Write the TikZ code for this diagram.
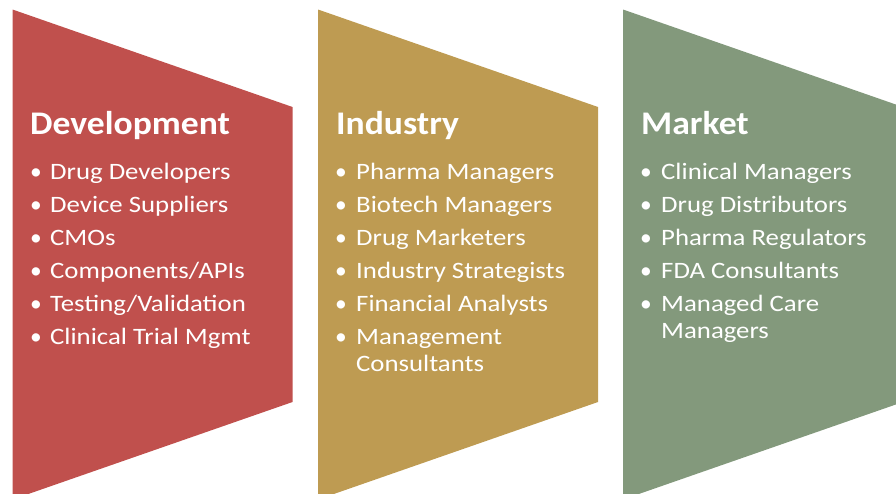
\documentclass[tikz,border=0pt]{standalone}
\usepackage{fontspec}
\setmainfont{Carlito}
\newfontfamily\itemfont[FakeStretch=1.14]{Carlito}
\newfontfamily\titlefont[FakeStretch=1.08]{Carlito}
\definecolor{cred}{RGB}{192,80,77}
\definecolor{cgold}{RGB}{190,155,82}
\definecolor{cgreen}{RGB}{131,153,124}
\tikzset{
  panel/.style={fill=#1, draw=none},
  ttl/.style={anchor=base west, inner sep=0pt, text=white, font=\titlefont\fontsize{33}{33}\selectfont\bfseries},
  itm/.style={anchor=base west, inner sep=0pt, text=white, font=\itemfont\fontsize{23.5}{28}\selectfont},
  bul/.style={anchor=base, inner sep=0pt, text=white, font=\fontsize{23.5}{28}\selectfont},
}
\begin{document}
\begin{tikzpicture}[x=1pt,y=-1pt]
\useasboundingbox (0,0) rectangle (896,493);
\foreach \px/\col in {12.5/cred, 318/cgold, 623/cgreen}{
  \fill[panel=\col] (\px,9.5) -- ++(280,97.5) -- ++(0,295) -- ++(-280,97.5) -- cycle;
}
% Development
\node[ttl] (t1) at (30,134) {Development};
\foreach \y/\txt [count=\i] in {179/{Drug Developers}, 212/{Device Suppliers}, 245/{CMOs}, 278/{Components/APIs}, 311/{Testing/Validation}, 344/{Clinical Trial Mgmt}}{
  \node[bul] (b1\i) at (36,\y) {•};
  \node[itm] (i1\i) at (50,\y) {\txt};
}
% Industry
\node[ttl] (t2) at (336,134) {Industry};
\foreach \y/\txt [count=\i] in {179/{Pharma Managers}, 212/{Biotech Managers}, 245/{Drug Marketers}, 278/{Industry Strategists}, 311/{Financial Analysts}, 344/{Management}}{
  \node[bul] (b2\i) at (341,\y) {•};
  \node[itm] (i2\i) at (356,\y) {\txt};
}
\node[itm] (i27) at (356,371) {Consultants};
% Market
\node[ttl] (t3) at (641,134) {Market};
\foreach \y/\txt [count=\i] in {179/{Clinical Managers}, 212/{Drug Distributors}, 245/{Pharma Regulators}, 278/{FDA Consultants}, 311/{Managed Care}}{
  \node[bul] (b3\i) at (646,\y) {•};
  \node[itm] (i3\i) at (661,\y) {\txt};
}
\node[itm] (i36) at (661,338) {Managers};
\end{tikzpicture}
\end{document}
